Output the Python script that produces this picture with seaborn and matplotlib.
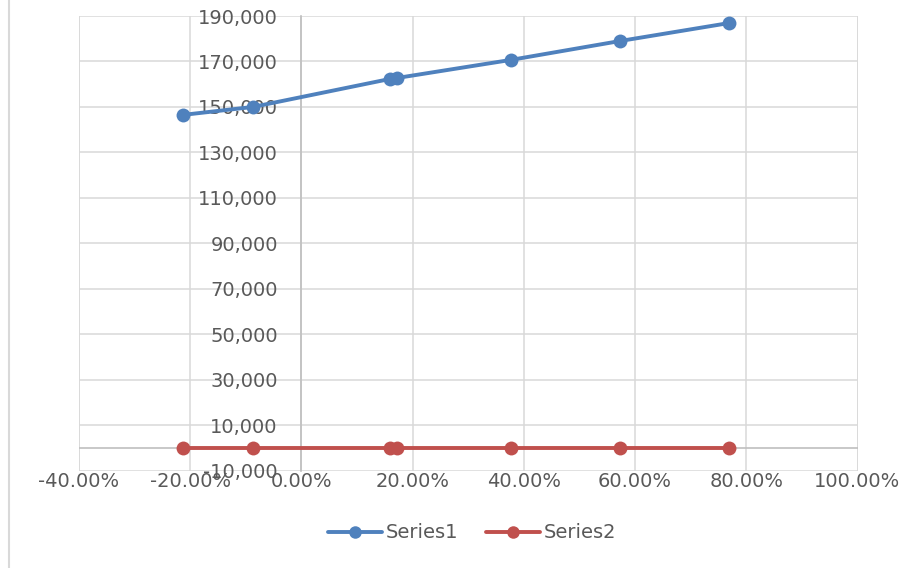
import numpy as np
import pandas as pd
import seaborn as sns
import matplotlib.pyplot as plt
from matplotlib.lines import Line2D
from matplotlib.ticker import FuncFormatter

# values
x_pct = [-21.3, -8.7, 15.9, 17.1, 37.7, 57.3, 76.9]
series1 = [146500, 150000, 162300, 162700, 170700, 179000, 186900]
series2 = [0, 0, 0, 0, 0, 0, 0]
series_names = ['Series1', 'Series2']
x_ticks = [-40, -20, 0, 20, 40, 60, 80, 100]
y_ticks = [-10000, 10000, 30000, 50000, 70000, 90000, 110000, 130000, 150000, 170000, 190000]

colors = {'Series1': '#4F81BD', 'Series2': '#C0504D'}
txt = '#595959'
grid = '#D9D9D9'

df = pd.concat([
    pd.DataFrame({'x': x_pct, 'value': series1, 'series': series_names[0]}),
    pd.DataFrame({'x': x_pct, 'value': series2, 'series': series_names[1]}),
])

sns.set_theme(style='whitegrid')
plt.rcParams['font.family'] = ['DejaVu Sans']

fig = plt.figure(figsize=(9.06, 5.68), dpi=100)
ax = fig.add_axes([79 / 906, 1 - 470.7 / 568, (857.5 - 79) / 906, (470.7 - 16) / 568])

sns.lineplot(data=df, x='x', y='value', hue='series', palette=colors, sort=False,
             marker='o', markersize=10, markeredgewidth=0, linewidth=2.8,
             ax=ax, legend=False, zorder=3)

ax.set_xlim(-40, 100)
ax.set_ylim(-10000, 190000)
ax.set_xticks(x_ticks)
ax.set_yticks(y_ticks)
ax.xaxis.set_major_formatter(FuncFormatter(lambda v, p: f'{v:.2f}%'))
ax.yaxis.set_major_formatter(FuncFormatter(lambda v, p: f'{v:,.0f}'))
ax.set_xlabel('')
ax.set_ylabel('')
ax.grid(True, color=grid, linewidth=1.1)

for s in ['top', 'right', 'bottom']:
    ax.spines[s].set_visible(False)
ax.spines['left'].set_position(('data', 0))
ax.spines['left'].set_color('#BFBFBF')
ax.spines['left'].set_linewidth(1.2)
ax.axhline(0, color='#BFBFBF', linewidth=1.2, zorder=1)
# frame edges of plot area
ax.axvline(-40, color=grid, linewidth=1.1, zorder=0.6)
ax.axvline(100, color=grid, linewidth=1.1, zorder=0.6)

ax.tick_params(axis='both', length=0, labelsize=14, labelcolor=txt)
ax.tick_params(axis='y', pad=17)
ax.tick_params(axis='x', pad=1)

handles = [Line2D([0], [0], color=colors[n], marker='o', markersize=9,
                  markeredgewidth=0, linewidth=2.8) for n in series_names]
leg = fig.legend(handles, series_names, loc='center', bbox_to_anchor=(472 / 906, 1 - 533 / 568),
                 ncol=2, frameon=False, fontsize=14, handlelength=2.8,
                 handletextpad=0.2, columnspacing=1.4)
for t in leg.get_texts():
    t.set_color(txt)

# chart area border visible at left
fig.add_artist(Line2D([9 / 906, 9 / 906], [0, 1], color=grid, linewidth=1.5,
                      transform=fig.transFigure))

fig.savefig('out.png', dpi=100)
